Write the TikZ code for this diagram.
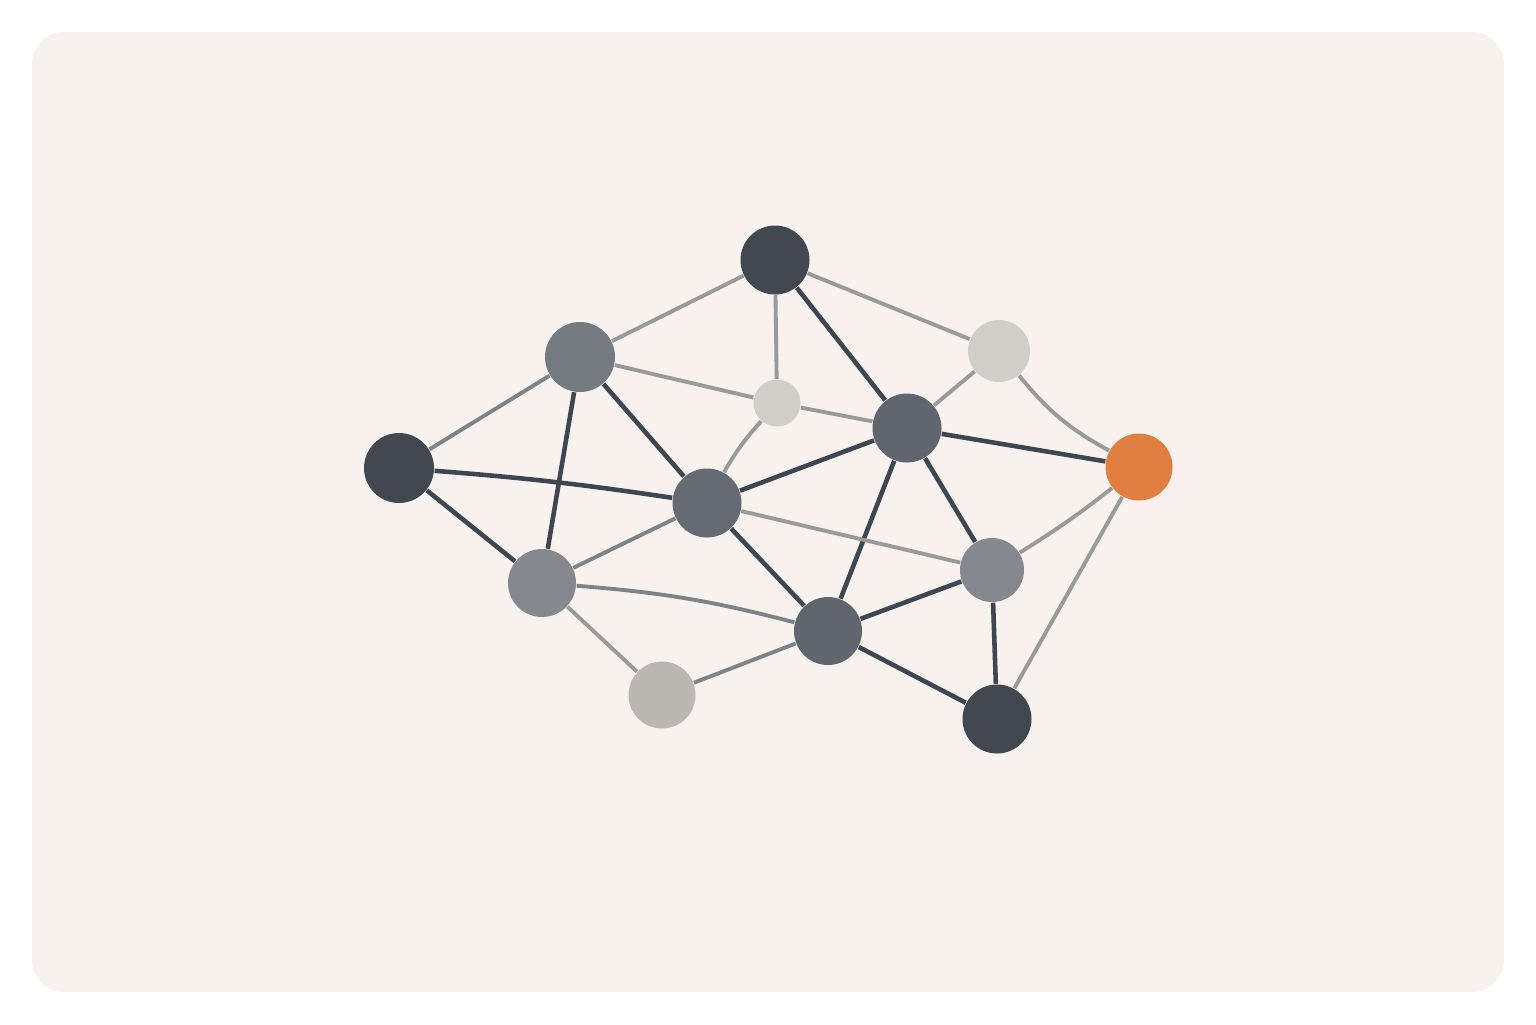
\documentclass[tikz,border=0pt]{standalone}
\usepackage{tikz}

\definecolor{paper}{HTML}{F7F2EE}
\definecolor{ink}{HTML}{414850}
\definecolor{slate}{HTML}{5F666D}
\definecolor{steel}{HTML}{646B73}
\definecolor{ash}{HTML}{737A80}
\definecolor{fog}{HTML}{85888C}
\definecolor{mist}{HTML}{D0CEC9}
\definecolor{pebble}{HTML}{BBB8B3}
\definecolor{ember}{HTML}{E07F40}
\definecolor{wire}{HTML}{3F4650}
\definecolor{thread}{HTML}{9A9A99}
\definecolor{cord}{HTML}{7F8387}

\begin{document}
\begin{tikzpicture}[
    dot/.style={circle, inner sep=0pt, minimum size=#1cm},
    strong/.style={wire, line width=1.3pt},
    faint/.style={thread, line width=1.1pt},
    middle/.style={cord, line width=1.1pt}
  ]
      % card
      \fill[white] (0, 0) rectangle (15.36, -10.24);
      \fill[paper, rounded corners=0.32cm] (0.32, -0.32) rectangle (15.04, -9.92);

      % nodes
      \node[dot=0.69, fill=ink] (top) at (7.75, -2.60) {};
      \node[dot=0.70, fill=ash] (upl) at (5.80, -3.57) {};
      \node[dot=0.70, fill=ink] (lft) at (3.99, -4.68) {};
      \node[dot=0.47, fill=mist] (sml) at (7.77, -4.03) {};
      \node[dot=0.62, fill=mist] (upr) at (9.99, -3.51) {};
      \node[dot=0.69, fill=slate] (crt) at (9.07, -4.28) {};
      \node[dot=0.67, fill=ember] (org) at (11.39, -4.67) {};
      \node[dot=0.69, fill=steel] (ctr) at (7.07, -5.03) {};
      \node[dot=0.68, fill=fog] (lwl) at (5.42, -5.83) {};
      \node[dot=0.64, fill=fog] (rmd) at (9.92, -5.70) {};
      \node[dot=0.68, fill=slate] (bct) at (8.28, -6.31) {};
      \node[dot=0.67, fill=pebble] (blt) at (6.62, -6.95) {};
      \node[dot=0.69, fill=ink] (brt) at (9.97, -7.19) {};

      % links
      \draw[faint] (top) -- (upl);
      \draw[faint] (top) -- (upr);
      \draw[faint] (top) -- (sml);
      \draw[strong] (top) -- (crt);
      \draw[middle] (upl) -- (lft);
      \draw[faint] (upl) -- (sml);
      \draw[faint] (sml) -- (crt);
      \draw[strong] (upl) -- (ctr);
      \draw[strong] (upl) -- (lwl);
      \draw[strong] (lft) to[bend left=2] (ctr);
      \draw[strong] (lft) -- (lwl);
      \draw[faint] (sml) to[bend right=6] (ctr);
      \draw[faint] (upr) -- (crt);
      \draw[faint] (upr) to[bend right=11] (org);
      \draw[strong] (crt) -- (org);
      \draw[strong] (crt) -- (ctr);
      \draw[strong] (crt) -- (bct);
      \draw[strong] (crt) -- (rmd);
      \draw[middle] (ctr) -- (lwl);
      \draw[faint] (ctr) -- (rmd);
      \draw[strong] (ctr) -- (bct);
      \draw[middle] (lwl) to[bend left=5] (bct);
      \draw[faint] (lwl) -- (blt);
      \draw[middle] (blt) -- (bct);
      \draw[strong] (bct) -- (rmd);
      \draw[strong] (bct) -- (brt);
      \draw[faint] (rmd) to[bend right=3] (org);
      \draw[strong] (rmd) -- (brt);
      \draw[faint] (org) -- (brt);
    \end{tikzpicture}
\end{document}
